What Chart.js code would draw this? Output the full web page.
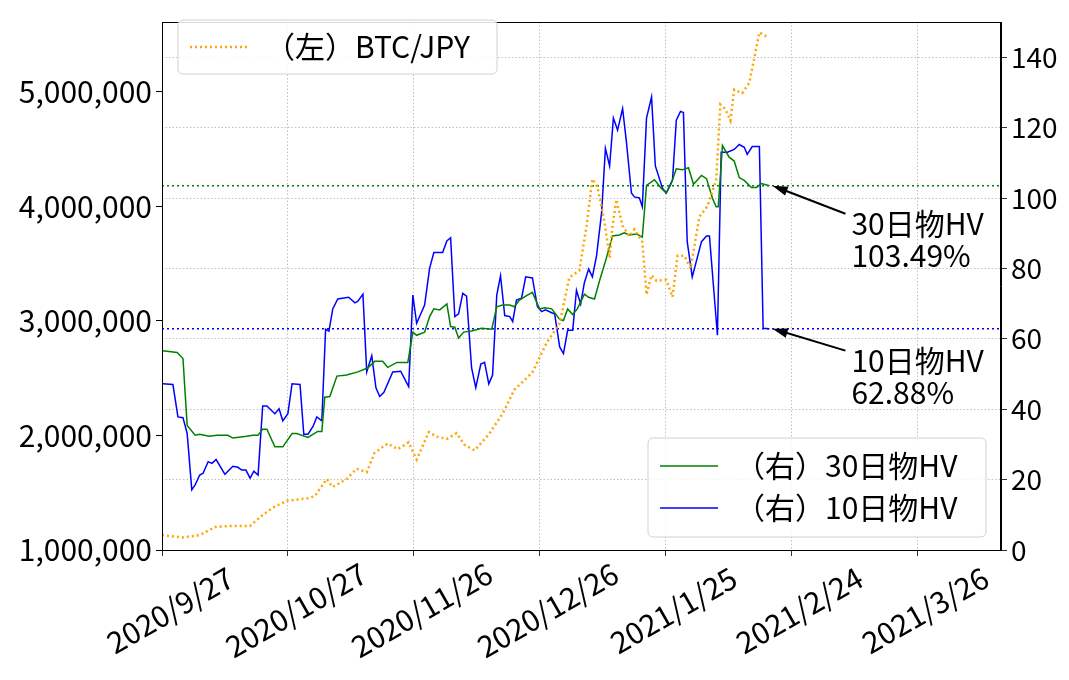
<!DOCTYPE html>
<html>
<head>
<meta charset="utf-8">
<script src="https://cdn.jsdelivr.net/npm/chart.js@4"></script>
<style>
  body { margin: 0; background: #fff; }
  #wrap { width: 1069px; height: 680px; }
</style>
</head>
<body>
<div id="wrap"><canvas id="c" width="1069" height="680"></canvas></div>
<script>
// days counted from 2020/9/27
const btcDays = [0, 5, 9, 12.6, 16.2, 21, 23.8, 26.9, 29.8, 34.5, 36.4, 39.3, 40.7, 44, 46.4, 48.8, 50.7, 53.8, 56.2, 58.8, 60.7, 63.6, 65.5, 67.9, 70.2, 72.1, 74.5, 77.9, 81.2, 84, 88.3, 91.7, 94.8, 97.1, 99.5, 101.2, 102.6, 103.8, 105.5, 106.7, 107.4, 108.3, 109.8, 111.4, 112.6, 114.5, 115.5, 116.7, 117.9, 120.2, 121.7, 122.9, 124.5, 126, 128.1, 130, 132.1, 133.1, 134.3, 135.5, 136.4, 138.3, 140, 142.4, 144.3];
const btcJpy = [1130000, 1110000, 1130000, 1200000, 1210000, 1210000, 1300000, 1380000, 1430000, 1450000, 1470000, 1620000, 1550000, 1620000, 1710000, 1680000, 1850000, 1930000, 1880000, 1940000, 1790000, 2030000, 1990000, 1970000, 2020000, 1920000, 1870000, 2010000, 2190000, 2400000, 2550000, 2810000, 2980000, 3380000, 3440000, 3830000, 4240000, 4170000, 3860000, 3550000, 3830000, 4060000, 3830000, 3740000, 3800000, 3690000, 3230000, 3400000, 3350000, 3360000, 3210000, 3570000, 3570000, 3460000, 3910000, 4000000, 4230000, 4890000, 4850000, 4750000, 5020000, 4990000, 5080000, 5520000, 5480000];

const hv30Days = [0.2, 3.6, 5, 6, 7.9, 9, 11.2, 13.1, 15.7, 16.9, 20.2, 21.7, 22.9, 24, 25, 26.9, 28.8, 31, 32.1, 34.8, 37.1, 38.1, 38.8, 40, 41.7, 44, 46.7, 49, 50.7, 52.6, 53.8, 56, 58.6, 59.8, 60.7, 62.6, 63.8, 64.8, 66.2, 67.9, 68.8, 69.8, 70.7, 71.9, 73.8, 76.2, 78.6, 79.8, 81.2, 82.9, 84, 85.2, 87.1, 88.3, 90, 91.2, 92.9, 94.8, 95.7, 96.7, 97.9, 99, 100.7, 101.7, 103.1, 104.3, 105.7, 107.4, 109, 110.2, 111.4, 113.1, 114.5, 115.5, 117.4, 119, 120.2, 121.4, 122.6, 124, 125.5, 126.7, 128.6, 129.8, 131.2, 132.1, 132.6, 133.6, 135.2, 136.4, 137.6, 138.8, 140.5, 141.7, 142.9, 144.8];
const hv30 = [56.6, 56.1, 54.4, 35.4, 32.6, 32.9, 32.3, 32.6, 32.6, 31.8, 32.3, 32.6, 32.6, 34.3, 34.3, 29.3, 29.3, 33.1, 33.1, 32, 33.7, 33.7, 43.4, 43.6, 49.4, 49.7, 50.6, 51.7, 53.6, 53.6, 51.9, 53.3, 53.3, 61.9, 61, 61.9, 66.3, 68.5, 68.2, 69.9, 63.5, 63.3, 60.2, 61.9, 62.2, 63, 62.7, 69.1, 69.6, 69.6, 69.1, 71, 72.4, 73.2, 68.5, 68.8, 68.5, 65.5, 65.2, 68.5, 66.9, 68.5, 72.7, 71.8, 71.3, 76.5, 82, 89.2, 89.5, 90.1, 89.5, 89.8, 88.9, 103.6, 105.2, 102.8, 101.4, 104.1, 108.3, 108, 108.6, 103.9, 106.4, 105.5, 100, 97.5, 97.5, 114.9, 111.6, 110.5, 105.8, 105, 103, 103, 104.1, 103.49];

const hv10Days = [0.2, 2.6, 3.8, 5, 6, 7.1, 7.9, 9, 9.8, 11, 11.9, 12.9, 15, 16.9, 18.1, 19, 20, 21, 21.9, 22.9, 24, 25, 26.9, 27.9, 28.8, 30, 31, 32.9, 33.8, 34.8, 36, 36.9, 38.1, 39, 39.8, 40.7, 41.9, 44.5, 46, 46.7, 47.9, 48.8, 50, 51, 51.9, 52.9, 55, 56.9, 58.8, 59.8, 60.7, 61.7, 62.6, 63.8, 64.8, 66.9, 67.9, 68.8, 69.8, 70.7, 71.7, 72.6, 73.8, 74.8, 76, 76.9, 77.9, 78.8, 79.8, 80.7, 81.7, 82.9, 83.6, 84.5, 85.7, 86.7, 88.3, 89.5, 90.5, 91.4, 92.9, 93.6, 94.8, 95.7, 96.7, 97.9, 98.8, 99.8, 100.7, 101.7, 102.6, 103.6, 104.8, 105.7, 106.7, 107.6, 108.6, 109.8, 110.7, 111.9, 112.6, 113.8, 114.5, 115.5, 116.7, 117.6, 119.3, 120.2, 121.7, 122.6, 123.6, 124.3, 125.2, 126.4, 128.6, 129.8, 130.5, 132.4, 133.3, 134.8, 136.4, 137.6, 138.8, 139.5, 140.7, 142.4, 143.3, 144.8];
const hv10 = [47.2, 47, 37.8, 37.6, 33.1, 17.1, 18.5, 21.3, 21.8, 25.1, 24.6, 25.7, 21.5, 23.8, 23.5, 22.7, 22.7, 20.4, 22.4, 21.3, 40.9, 40.9, 38.7, 40.1, 36.7, 38.7, 47.2, 47, 32.9, 32.9, 35.1, 37.8, 36.7, 62.7, 62.2, 68.5, 71.3, 71.8, 70.2, 70.7, 72.7, 50.6, 55.2, 46.1, 43.6, 44.8, 50.6, 50.8, 46.4, 72.4, 64.4, 67.1, 69.6, 80.1, 84.5, 84.5, 87.8, 88.7, 66.3, 67.1, 72.9, 72.1, 51.7, 46.1, 52.8, 53.3, 47.2, 49.7, 72.4, 77.9, 66.6, 66.3, 64.9, 71, 71.5, 77.6, 77.3, 69.1, 67.7, 68.2, 67.4, 67.1, 57.7, 55.8, 62.4, 62.4, 73.8, 69.9, 76, 79.8, 77.6, 83.7, 95.9, 114.1, 109.1, 122.7, 119.3, 125.4, 116, 101.4, 100.3, 100, 97.5, 122.7, 128.7, 109.1, 102.8, 101.4, 105.2, 122.1, 124.6, 124.3, 87.6, 77.6, 87.6, 89.2, 89.2, 61, 113, 113, 113.8, 115.2, 114.4, 112.4, 114.6, 114.6, 63, 62.88];

const startDate = new Date(2020, 8, 27);
const xTicks = [0, 30, 60, 90, 120, 150, 180];
const last30 = 103.49, last10 = 62.88;

const FONT = '"Noto Sans CJK JP", "Noto Sans", sans-serif';
const pts = (xs, ys) => xs.map((d, i) => ({ x: d, y: ys[i] }));
const dateLabel = d => {
    const t = new Date(startDate.getTime() + d * 86400000);
    return `${t.getFullYear()}/${t.getMonth() + 1}/${t.getDate()}`;
};

const extras = {
    id: 'extras',
    beforeDatasetsDraw(chart) {
        const { ctx, chartArea: a, scales } = chart;
        const yr = scales.yR;
        ctx.save();
        ctx.lineWidth = 1.5;
        ctx.setLineDash([2, 3]);
        [[last30, '#008000'], [last10, '#0000ff']].forEach(([v, c]) => {
            const y = yr.getPixelForValue(v);
            ctx.strokeStyle = c;
            ctx.beginPath(); ctx.moveTo(a.left, y); ctx.lineTo(a.right, y); ctx.stroke();
        });
        ctx.restore();
    },
    afterDraw(chart) {
        const { ctx, chartArea: a, scales } = chart;
        const x = scales.x, yr = scales.yR;
        ctx.save();
        // frame
        ctx.strokeStyle = '#000'; ctx.lineWidth = 1;
        ctx.strokeRect(a.left + 0.5, a.top + 0.5, a.right - a.left - 1, a.bottom - a.top);

        // x tick labels, rotated 30deg and centred on the tick
        ctx.fillStyle = '#000';
        ctx.font = `30px ${FONT}`;
        ctx.textAlign = 'center'; ctx.textBaseline = 'middle';
        xTicks.forEach(d => {
            ctx.save();
            ctx.translate(x.getPixelForValue(d) + 8, a.bottom + 60);
            ctx.rotate(-Math.PI / 6);
            ctx.fillText(dateLabel(d), 0, 0);
            ctx.restore();
        });

        // annotations with arrows
        const endX = x.getPixelForValue(hv10Days[hv10Days.length - 1]);
        const notes = [
            [last30, ['30日物HV', `${last30}%`], 30],
            [last10, ['10日物HV', `${last10}%`], 24]
        ];
        ctx.font = `30px ${FONT}`;
        ctx.textAlign = 'left'; ctx.textBaseline = 'middle';
        notes.forEach(([v, lines, dy]) => {
            const px = endX + 3, py = yr.getPixelForValue(v);
            const tx = endX + 82, ty = py + dy;
            const ang = Math.atan2(ty - py, tx - px);
            ctx.strokeStyle = '#000'; ctx.lineWidth = 2;
            ctx.beginPath(); ctx.moveTo(tx - 6, ty - 2); ctx.lineTo(px + 10 * Math.cos(ang), py + 10 * Math.sin(ang)); ctx.stroke();
            ctx.beginPath();
            ctx.moveTo(px, py);
            ctx.lineTo(px + 16 * Math.cos(ang - 0.3), py + 16 * Math.sin(ang - 0.3));
            ctx.lineTo(px + 16 * Math.cos(ang + 0.3), py + 16 * Math.sin(ang + 0.3));
            ctx.closePath(); ctx.fillStyle = '#000'; ctx.fill();
            ctx.fillText(lines[0], tx, ty + 8);
            ctx.fillText(lines[1], tx, ty + 40);
        });

        // legends
        const box = (bx, by, bw, bh) => {
            ctx.fillStyle = 'rgba(255,255,255,0.85)';
            ctx.strokeStyle = '#d0d0d0'; ctx.lineWidth = 1;
            ctx.beginPath(); ctx.roundRect(bx, by, bw, bh, 5); ctx.fill(); ctx.stroke();
        };
        const item = (y, lx, color, dash, label) => {
            ctx.strokeStyle = color; ctx.lineWidth = dash ? 2.5 : 1.5;
            ctx.setLineDash(dash || []);
            ctx.beginPath(); ctx.moveTo(lx, y); ctx.lineTo(lx + 58, y); ctx.stroke();
            ctx.setLineDash([]);
            ctx.fillStyle = '#000';
            ctx.fillText(label, lx + 75, y);
        };
        box(178, 20, 319, 54);
        item(47, 190, '#ffa500', [2, 3], '（左）BTC/JPY');
        box(648, 438, 338, 99);
        item(466, 660, '#008000', null, '（右）30日物HV');
        item(508, 660, '#0000ff', null, '（右）10日物HV');
        ctx.restore();
    }
};

new Chart(document.getElementById('c'), {
    type: 'line',
    data: {
        datasets: [
            { label: '（左）BTC/JPY', data: pts(btcDays, btcJpy), yAxisID: 'yL', borderColor: '#ffa500', borderWidth: 2.5, borderDash: [2, 3] },
            { label: '（右）30日物HV', data: pts(hv30Days, hv30), yAxisID: 'yR', borderColor: '#008000', borderWidth: 1.5 },
            { label: '（右）10日物HV', data: pts(hv10Days, hv10), yAxisID: 'yR', borderColor: '#0000ff', borderWidth: 1.5 }
        ]
    },
    options: {
        responsive: false,
        animation: false,
        layout: { padding: { top: -7 } },
        elements: { point: { radius: 0 }, line: { tension: 0 } },
        plugins: { legend: { display: false }, tooltip: { enabled: false } },
        scales: {
            x: {
                type: 'linear', min: 0, max: 200,
                afterBuildTicks: s => { s.ticks = xTicks.map(v => ({ value: v })); },
                afterFit: s => { s.height = 130; },
                ticks: { display: false },
                grid: { color: '#b0b0b0', lineWidth: 0.8, tickLength: 6, tickColor: '#000' },
                border: { color: '#000', dash: [1.5, 2] }
            },
            yL: {
                position: 'left', min: 1000000, max: 5611000,
                afterBuildTicks: s => { s.ticks = [1, 2, 3, 4, 5].map(v => ({ value: v * 1000000 })); },
                afterFit: s => { s.width = 162; },
                ticks: { color: '#000', font: { size: 30, family: FONT }, padding: 4, callback: v => v.toLocaleString('en-US') },
                grid: { drawOnChartArea: false, tickLength: 6, tickColor: '#000' },
                border: { color: '#000' }
            },
            yR: {
                position: 'right', min: 0, max: 150,
                afterBuildTicks: s => { s.ticks = [0, 20, 40, 60, 80, 100, 120, 140].map(v => ({ value: v })); },
                afterFit: s => { s.width = 68; },
                ticks: { color: '#000', font: { size: 28, family: FONT }, padding: 4 },
                grid: { color: '#b0b0b0', lineWidth: 0.8, tickLength: 6, tickColor: '#000' },
                border: { color: '#000', dash: [1.5, 2] }
            }
        }
    },
    plugins: [extras]
});
</script>
</body>
</html>
